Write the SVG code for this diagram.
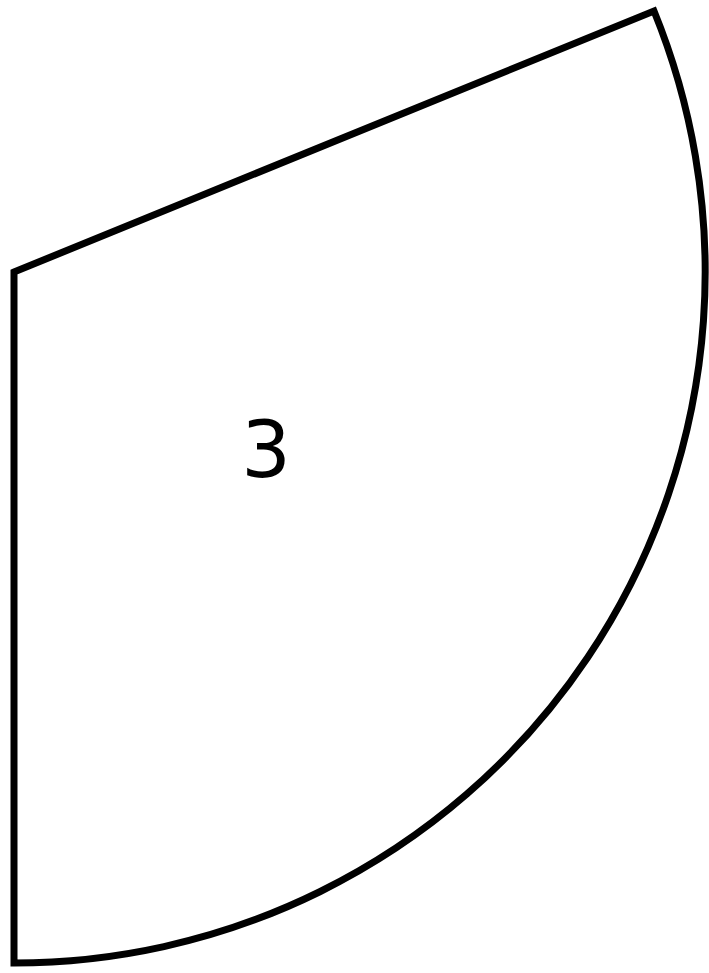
<svg xmlns="http://www.w3.org/2000/svg" width="709" height="973" viewBox="0 0 709 973">
<style>
.outline{fill:#fff;stroke:#000;stroke-width:7;stroke-linejoin:miter}
.lbl{font-family:"DejaVu Sans",sans-serif;font-size:78px;fill:#000;text-anchor:middle}
</style>
<rect width="709" height="973" fill="#fff"/>
<g id="sector3">
<path class="outline" d="M14,272 L654,11 A691,691 0 0 1 14,963 Z"/>
<text class="lbl" x="266" y="477">3</text>
</g>
</svg>
